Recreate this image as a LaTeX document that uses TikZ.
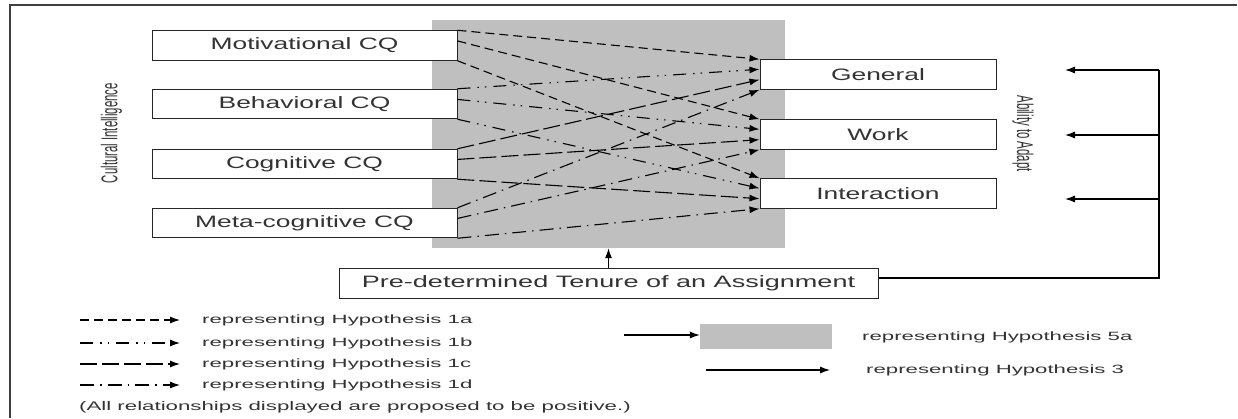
\documentclass[tikz,border=0pt]{standalone}
\usepackage{graphicx}
\usepackage{fontspec}
\setmainfont{Liberation Sans}
\usetikzlibrary{arrows.meta,calc,positioning}
\newcommand{\hstretch}[2]{\scalebox{#1}[1]{#2}}
\newcommand{\vstretch}[2]{\scalebox{1}[#1]{#2}}
\tikzset{
    cqbox/.style={draw=black!85,line width=1pt,fill=white,inner sep=0pt,
        minimum width=305pt,minimum height=29.5pt,text=black!80,
        font=\fontsize{16.5}{18}\selectfont},
    adbox/.style={cqbox,minimum width=236pt},
    tip/.style={-{Latex[length=10pt,width=7pt]},line width=1.1pt},
    h1a/.style={tip,dash pattern=on 9pt off 5pt},
    h1b/.style={tip,dash pattern=on 13pt off 7pt on 1.5pt off 6pt on 1.5pt off 7pt},
    h1c/.style={tip,dash pattern=on 17pt off 5pt},
    h1d/.style={tip,dash pattern=on 14pt off 6pt on 1.5pt off 6pt},
    keytext/.style={anchor=west,inner sep=0pt,text=black!80,
        font=\fontsize{12}{14}\selectfont},
    sidetext/.style={inner sep=0pt,text=black!80,font=\fontsize{11.4}{13}\selectfont}
}
\begin{document}
\begin{tikzpicture}[x=1pt,y=-1pt]
    \useasboundingbox (0,0) rectangle (1238,418);
    \draw[black!75,line width=1.2pt] (10,418)--(10,5)--(1237,5);
    \node[fill=black!25,inner sep=0pt,minimum width=353pt,minimum height=228pt] (mod) at (608.5,134) {};
    \foreach \n/\y/\t in {mot/45.5/Motivational CQ,beh/104/Behavioral CQ,
            cog/164/Cognitive CQ,meta/223/Meta-cognitive CQ}
        \node[cqbox] (\n) at (304.5,\y) {\hstretch{1.6}{\t}};
    \foreach \n/\y/\t in {gen/74.5/General,work/134.5/Work,inter/193.5/Interaction}
        \node[adbox] (\n) at (878,\y) {\hstretch{1.6}{\t}};
    \foreach \s/\a/\h in {mot/0/h1a,beh/0.33/h1b,cog/0.67/h1c,meta/1/h1d}
        \foreach \r/\b in {gen/0,work/0.35,inter/1}
            \draw[\h] ($(\s.north east)!\b!(\s.south east)$)--($(\r.north west)!\a!(\r.south west)$);
    \node[sidetext,rotate=90] (ci) at (111.5,133) {\vstretch{2}{Cultural Intelligence}};
    \node[sidetext,rotate=-90] (ata) at (1023,133.5) {\vstretch{2}{Ability to Adapt}};
    \node[cqbox,minimum width=539pt,minimum height=30pt] (tenure) at (608.5,283)
        {\hstretch{1.64}{Pre-determined Tenure of an Assignment}};
    \draw[tip] (tenure.north)--(tenure.north |- mod.south);
    \coordinate (fb) at (1159,278);
    \draw[line width=1.1pt] (tenure.east |- fb)--(fb)--(1159,70);
    \foreach \n/\y in {gen/70,work/135,inter/199}{
        \coordinate (fb-\n) at (1159,\y);
        \draw[tip] (fb-\n)--++(-94,0);
    }
    \foreach \h/\y/\t in {h1a/320/1a,h1b/343/1b,h1c/364/1c,h1d/385/1d}{
        \coordinate (k\t) at (80,\y);
        \draw[\h] (k\t)--++(100,0);
        \node[keytext] (t\t) at (202,\y) {\hstretch{1.85}{representing Hypothesis \t}};
    }
    \node[fill=black!25,inner sep=0pt,minimum width=132pt,minimum height=25pt] (k5a) at (766,336.5) {};
    \coordinate (k5s) at (624,335);
    \draw[tip] (k5s)--(k5s -| k5a.west);
    \node[keytext] (t5a) at (862,337) {\hstretch{1.85}{representing Hypothesis 5a}};
    \coordinate (k3) at (706,370);
    \draw[tip] (k3)--++(124,0);
    \node[keytext] (t3) at (866,370) {\hstretch{1.85}{representing Hypothesis 3}};
    \node[keytext,font=\fontsize{12.5}{14}\selectfont] (note) at (79,407)
        {\hstretch{1.78}{(All relationships displayed are proposed to be positive.)}};
\end{tikzpicture}
\end{document}
